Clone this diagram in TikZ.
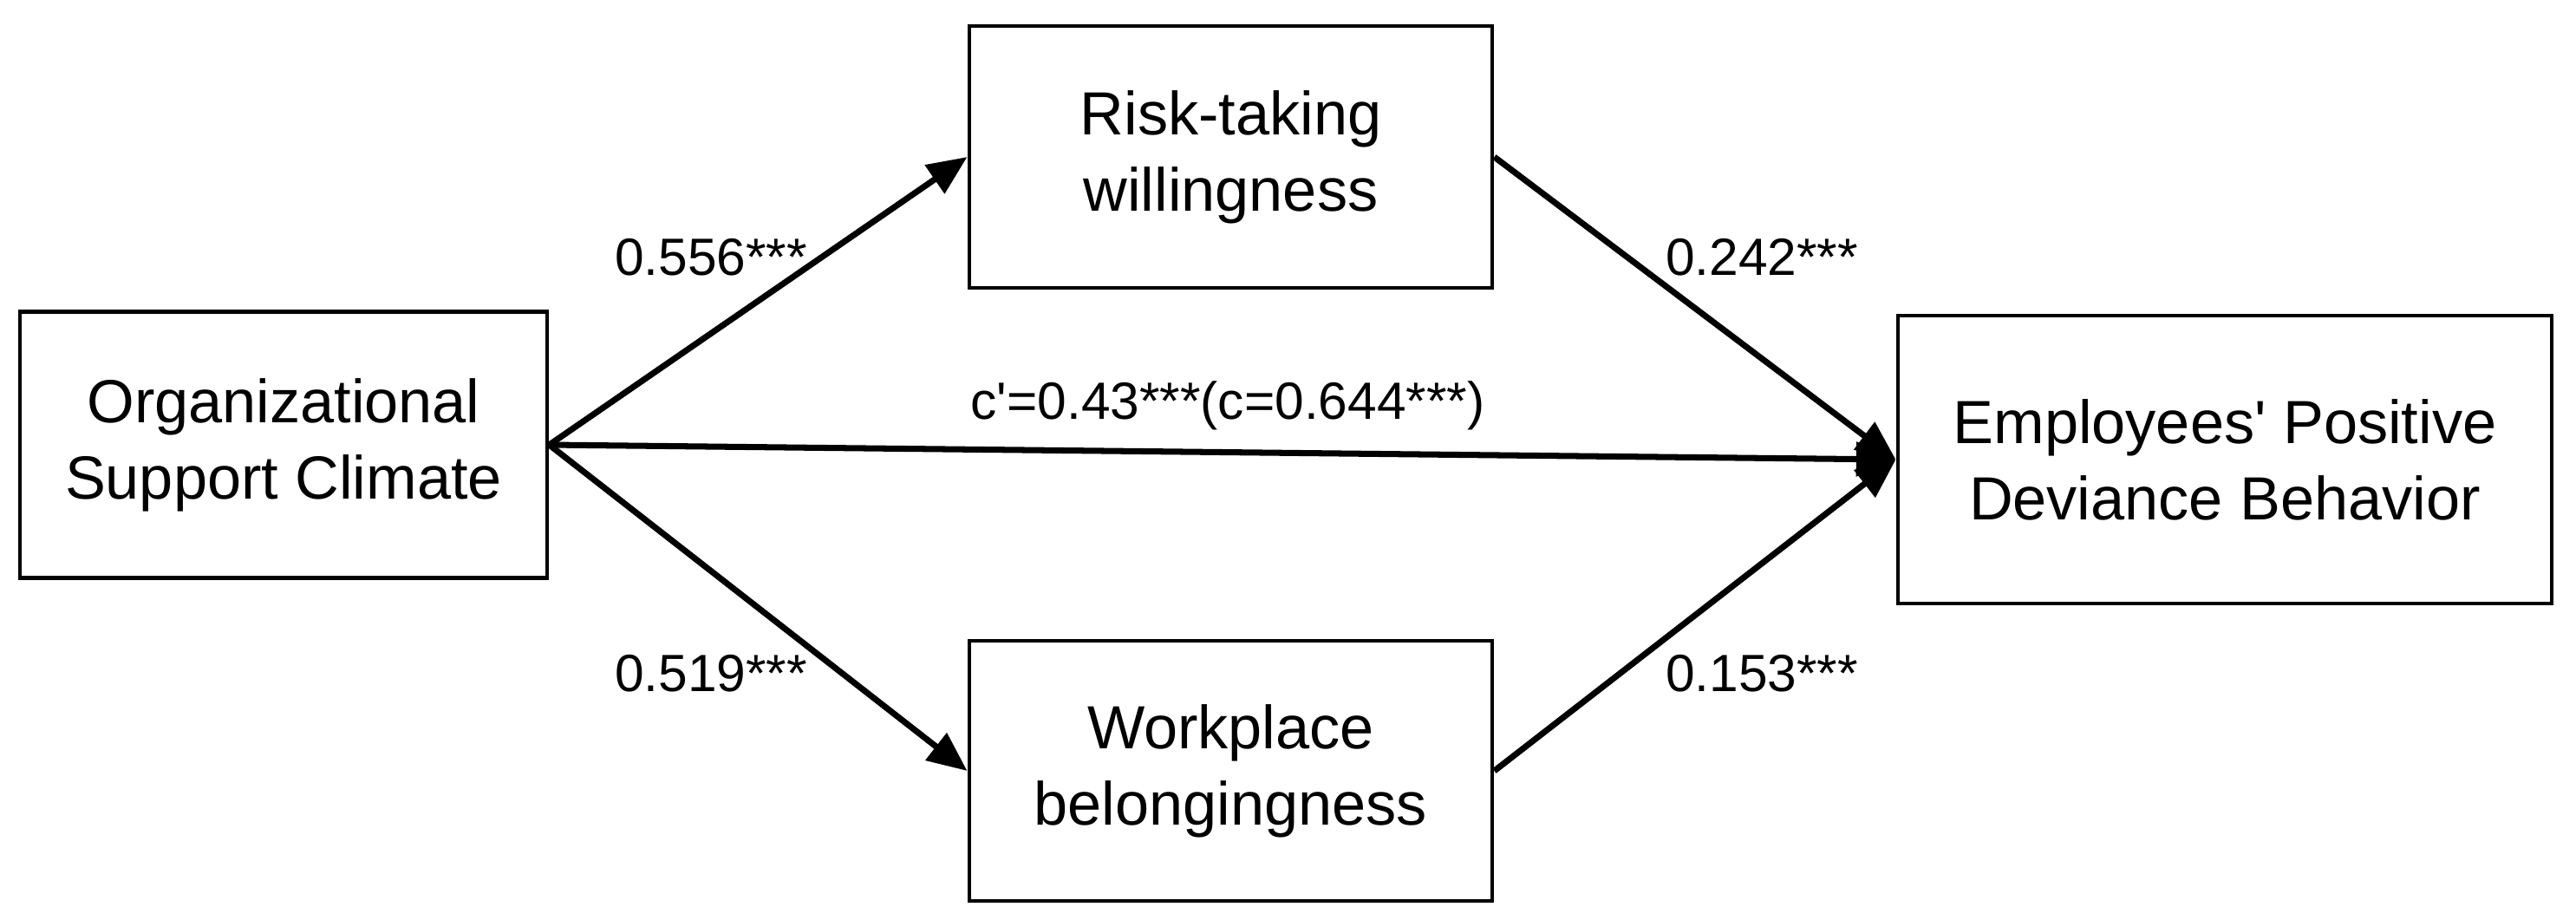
\documentclass[tikz,border=0pt]{standalone}
\usepackage{fontspec}
\setmainfont{Liberation Sans}
\usepackage{amsmath}
\usepackage{xcolor}
\usepackage{tikz}
\usetikzlibrary{shapes,arrows,arrows.meta,positioning,calc}

\tikzset{
    varbox/.style={draw, line width=0.7pt, align=center, inner sep=0pt,
        font=\fontsize{10}{12.5}\selectfont},
    effect/.style={->, line width=1pt},
    coef/.style={inner sep=0pt, font=\fontsize{8.6}{10}\selectfont}
}

\begin{document}
\begin{tikzpicture}[>={Triangle[length=6.5pt,width=5.5pt]}]
            \useasboundingbox (0,0) rectangle (14.855,5.3);
            % draw the independent variable, the two mediators and the outcome
            \node[varbox, minimum width=3.04cm, minimum height=1.535cm] (osc) at (1.635,2.735) {Organizational\\Support Climate};
            \node[varbox, minimum width=3.015cm, minimum height=1.51cm] (rtw) at (7.0975,4.395) {Risk-taking\\willingness};
            \node[varbox, minimum width=3.015cm, minimum height=1.5cm] (wpb) at (7.0975,0.855) {Workplace\\belongingness};
            \node[varbox, minimum width=3.77cm, minimum height=1.66cm] (epd) at (12.83,2.65) {Employees\textquotesingle\ Positive\\Deviance Behavior};
            % draw arrows from the climate to the mediators
            \draw[effect] (osc.east) -- (rtw.west);
            \draw[effect] (osc.east) -- (wpb.west);
            % draw the direct path and the arrows from the mediators to the outcome
            \draw[effect] (osc.east) -- (epd.west);
            \draw[effect] (rtw.east) -- (epd.west);
            \draw[effect] (wpb.east) -- (epd.west);
            % put the path coefficients next to the arrows
            \node[coef] (a1) at (4.1,3.815) {0.556***};
            \node[coef] (b1) at (10.16,3.815) {0.242***};
            \node[coef] (a2) at (4.1,1.415) {0.519***};
            \node[coef] (b2) at (10.16,1.415) {0.153***};
            \node[coef] (cp) at (7.08,2.96) {c\textquotesingle=0.43***(c=0.644***)};
        \end{tikzpicture}
\end{document}
